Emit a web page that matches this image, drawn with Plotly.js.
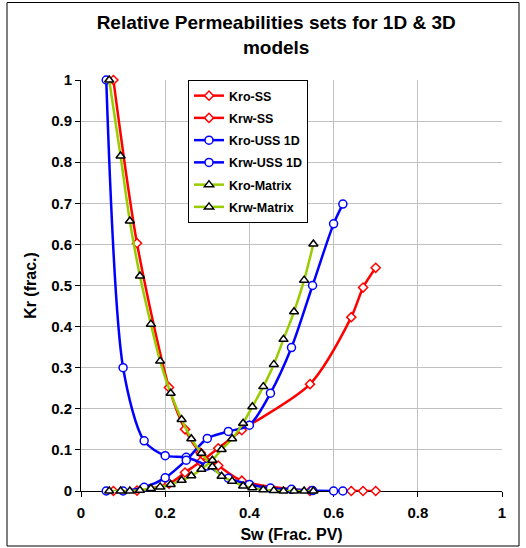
<!DOCTYPE html>
<html>
<head>
<meta charset="utf-8">
<script src="https://cdn.plot.ly/plotly-3.0.1.min.js"></script>
<style>
  html, body { margin: 0; padding: 0; background: #ffffff; }
  #chart { width: 526px; height: 548px; }
</style>
</head>
<body>
<div id="chart"></div>
<script>
// Steady-state (SS) set
const swSS  = [0.077, 0.133, 0.209, 0.247, 0.284, 0.326, 0.382, 0.544, 0.642, 0.670, 0.700];
const kroSS = [1.000, 0.603, 0.252, 0.150, 0.093, 0.062, 0.025, 0.000, 0.000, 0.000, 0.000];
const krwSS = [0.000, 0.001, 0.018, 0.045, 0.071, 0.104, 0.148, 0.260, 0.423, 0.495, 0.543];

// Unsteady-state 1D (USS 1D) set
const swUSS  = [0.06, 0.10, 0.15, 0.20, 0.25, 0.30, 0.35, 0.40, 0.45, 0.50, 0.55, 0.60, 0.622];
const kroUSS = [1.000, 0.300, 0.122, 0.086, 0.082, 0.061, 0.031, 0.016, 0.007, 0.004, 0.001, 0.000, 0.000];
const krwUSS = [0.000, 0.000, 0.009, 0.032, 0.075, 0.128, 0.145, 0.160, 0.238, 0.349, 0.500, 0.650, 0.698];

// Matrix set
const swMat  = [0.067, 0.094, 0.116, 0.140, 0.166, 0.188, 0.213, 0.239, 0.262, 0.286, 0.312,
                0.334, 0.359, 0.385, 0.407, 0.433, 0.458, 0.481, 0.506, 0.530, 0.552];
const kroMat = [1.000, 0.815, 0.657, 0.523, 0.406, 0.316, 0.238, 0.174, 0.127, 0.092, 0.059,
                0.036, 0.024, 0.012, 0.008, 0.003, 0.001, 0.000, 0.000, 0.000, 0.000];
const krwMat = [0.000, 0.000, 0.000, 0.002, 0.006, 0.010, 0.016, 0.026, 0.037, 0.053, 0.075,
                0.101, 0.127, 0.165, 0.205, 0.254, 0.308, 0.369, 0.436, 0.513, 0.601];

const seriesNames = ['Kro-SS', 'Krw-SS', 'Kro-USS 1D', 'Krw-USS 1D', 'Kro-Matrix', 'Krw-Matrix'];

const RED = '#ff0000', BLUE = '#0000ff', GREEN = '#99cc00';
const FONT = 'Liberation Sans, Arial, Helvetica, sans-serif';

function mk(name, x, y, lineColor, symbol, mSize, mLine, group) {
  return {
    type: 'scatter', mode: 'lines+markers', name: name, x: x, y: y,
    legendgroup: group, cliponaxis: false,
    line: { color: lineColor, width: 2.5, shape: 'spline', smoothing: 0.8 },
    marker: { symbol: symbol, size: mSize, color: '#ffffff', line: { color: mLine, width: 1.5 } }
  };
}

const traces = [
  mk(seriesNames[0], swSS, kroSS, RED, 'diamond', 7, RED, 'g1'),
  mk(seriesNames[1], swSS, krwSS, RED, 'diamond', 7, RED, 'g2'),
  mk(seriesNames[2], swUSS, kroUSS, BLUE, 'circle', 8, BLUE, 'g3'),
  mk(seriesNames[3], swUSS, krwUSS, BLUE, 'circle', 8, BLUE, 'g4'),
  mk(seriesNames[4], swMat, kroMat, GREEN, 'triangle-up', 8, '#000000', 'g5'),
  mk(seriesNames[5], swMat, krwMat, GREEN, 'triangle-up', 8, '#000000', 'g6')
];

// Plot-area pixel geometry helpers for the outer frame
const L = 81, T = 80, W = 421, H = 411;
const px = p => (p - L) / W;
const py = p => (T + H - p) / H;

const layout = {
  width: 526, height: 548,
  margin: { l: L, r: 526 - L - W, t: T, b: 548 - T - H },
  paper_bgcolor: '#ffffff', plot_bgcolor: '#ffffff',
  font: { family: FONT, color: '#000000' },
  title: {
    text: 'Relative Permeabilities sets for 1D & 3D<br>models',
    font: { family: FONT, size: 19, weight: 'bold', color: '#000000' },
    xref: 'container', x: 0.525, xanchor: 'center',
    yref: 'container', y: 1 - 29 / 548, yanchor: 'top'
  },
  xaxis: {
    range: [0, 1], dtick: 0.2, tick0: 0, autorange: false,
    showgrid: true, gridcolor: '#c0c0c0', gridwidth: 1,
    zeroline: false, showline: true, linecolor: '#000000', linewidth: 1,
    ticks: 'outside', ticklen: 5, tickcolor: '#000000', ticklabelstandoff: 3,
    tickfont: { family: FONT, size: 15, weight: 'bold', color: '#000000' },
    layer: 'below traces', automargin: false,
    title: { text: 'Sw (Frac. PV)', font: { family: FONT, size: 16, weight: 'bold', color: '#000000' }, standoff: 8 }
  },
  yaxis: {
    range: [0, 1], dtick: 0.1, tick0: 0, autorange: false,
    showgrid: true, gridcolor: '#c0c0c0', gridwidth: 1,
    zeroline: false, showline: true, linecolor: '#000000', linewidth: 1,
    ticks: 'outside', ticklen: 5, tickcolor: '#000000',
    tickfont: { family: FONT, size: 15, weight: 'bold', color: '#000000' },
    layer: 'below traces', automargin: false,
    title: { text: 'Kr (frac.)', font: { family: FONT, size: 16, weight: 'bold', color: '#000000' }, standoff: 10 }
  },
  legend: {
    x: px(188), y: py(80), xanchor: 'left', yanchor: 'top',
    bgcolor: '#ffffff', bordercolor: '#000000', borderwidth: 1,
    tracegroupgap: 3,
    font: { family: FONT, size: 12.5, weight: 'bold', color: '#000000' }
  },
  shapes: [{
    type: 'rect', xref: 'paper', yref: 'paper',
    x0: px(7), x1: px(519), y0: py(546), y1: py(2.5),
    line: { color: '#000000', width: 1 }, fillcolor: 'rgba(0,0,0,0)', layer: 'above'
  }],
  showlegend: true
};

Plotly.newPlot('chart', traces, layout, { displayModeBar: false, staticPlot: true });
</script>
</body>
</html>
